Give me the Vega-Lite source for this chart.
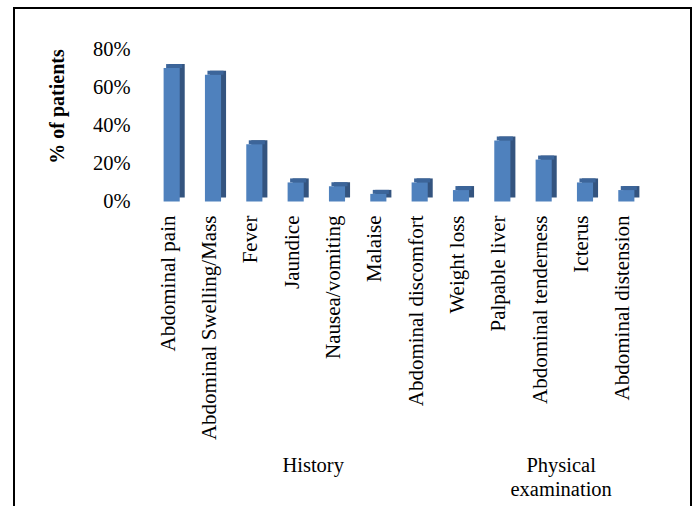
{
  "$schema": "https://vega.github.io/schema/vega-lite/v6.json",
  "width": 677,
  "height": 510,
  "autosize": {"type": "none"},
  "padding": {"left": 14, "top": 8, "right": 7, "bottom": 0},
  "background": "#ffffff",
  "data": {
    "values": [
      {"symptom": "Abdominal pain", "pct": 0.70, "group": "History"},
      {"symptom": "Abdominal Swelling/Mass", "pct": 0.665, "group": "History"},
      {"symptom": "Fever", "pct": 0.30, "group": "History"},
      {"symptom": "Jaundice", "pct": 0.10, "group": "History"},
      {"symptom": "Nausea/vomiting", "pct": 0.08, "group": "History"},
      {"symptom": "Malaise", "pct": 0.04, "group": "History"},
      {"symptom": "Abdominal discomfort", "pct": 0.10, "group": "History"},
      {"symptom": "Weight loss", "pct": 0.06, "group": "History"},
      {"symptom": "Palpable liver", "pct": 0.32, "group": "Physical examination"},
      {"symptom": "Abdominal tenderness", "pct": 0.22, "group": "Physical examination"},
      {"symptom": "Icterus", "pct": 0.10, "group": "Physical examination"},
      {"symptom": "Abdominal distension", "pct": 0.06, "group": "Physical examination"}
    ]
  },
  "encoding": {
    "y": {
      "field": "pct",
      "type": "quantitative",
      "scale": {"domain": [0, 0.8], "range": [193.5, 41], "nice": false, "zero": true},
      "axis": {
        "title": "% of patients",
        "titleFontSize": 20,
        "titleFontWeight": "bold",
        "titlePadding": 25,
        "titleY": 98,
        "values": [0, 0.2, 0.4, 0.6, 0.8],
        "format": ".0%",
        "labelFontSize": 20.5,
        "labelPadding": 4,
        "ticks": false,
        "domain": false,
        "grid": false,
        "offset": -120
      }
    }
  },
  "layer": [
    {
      "mark": {"type": "bar", "color": "#34547F", "xOffset": 5, "yOffset": -4, "y2Offset": -4},
      "encoding": {
        "x": {
          "field": "symptom",
          "type": "nominal",
          "sort": null,
          "scale": {"range": [137, 633], "paddingInner": 0.61, "paddingOuter": 0.305},
          "axis": {
            "title": null,
            "labelAngle": 0,
            "labelExpr": "datum.value == 'Jaundice' ? 'History' : (datum.value == 'Abdominal tenderness' ? ['Physical', 'examination'] : '')",
            "labelOffset": 17.5,
            "labelBaseline": "top",
            "labelAlign": "center",
            "labelLineHeight": 24,
            "labelFontSize": 20.5,
            "labelOverlap": false,
            "labelFlush": false,
            "labelPadding": 0,
            "ticks": false,
            "domain": false,
            "grid": false,
            "offset": -63
          }
        }
      }
    },
    {
      "mark": {"type": "bar", "color": "#3C659A", "xOffset": 2.5, "yOffset": -4},
      "encoding": {
        "x": {"field": "symptom", "type": "nominal", "sort": null, "axis": null},
        "y2": {"field": "pct"}
      }
    },
    {
      "mark": {"type": "bar", "color": "#4F81BD"},
      "encoding": {
        "x": {
          "field": "symptom",
          "type": "nominal",
          "sort": null,
          "axis": {
            "title": null,
            "labelAngle": -90,
            "labelFontSize": 21,
            "labelPadding": 20,
            "labelOffset": -3,
            "labelLimit": 0,
            "labelOverlap": false,
            "ticks": false,
            "domain": false,
            "grid": false,
            "offset": -227
          }
        }
      }
    }
  ],
  "resolve": {"axis": {"x": "independent"}},
  "config": {
    "font": "Liberation Serif",
    "axis": {"labelColor": "#000000", "titleColor": "#000000", "labelFont": "Liberation Serif", "titleFont": "Liberation Serif"},
    "view": {"stroke": "#000000", "strokeWidth": 2}
  }
}
